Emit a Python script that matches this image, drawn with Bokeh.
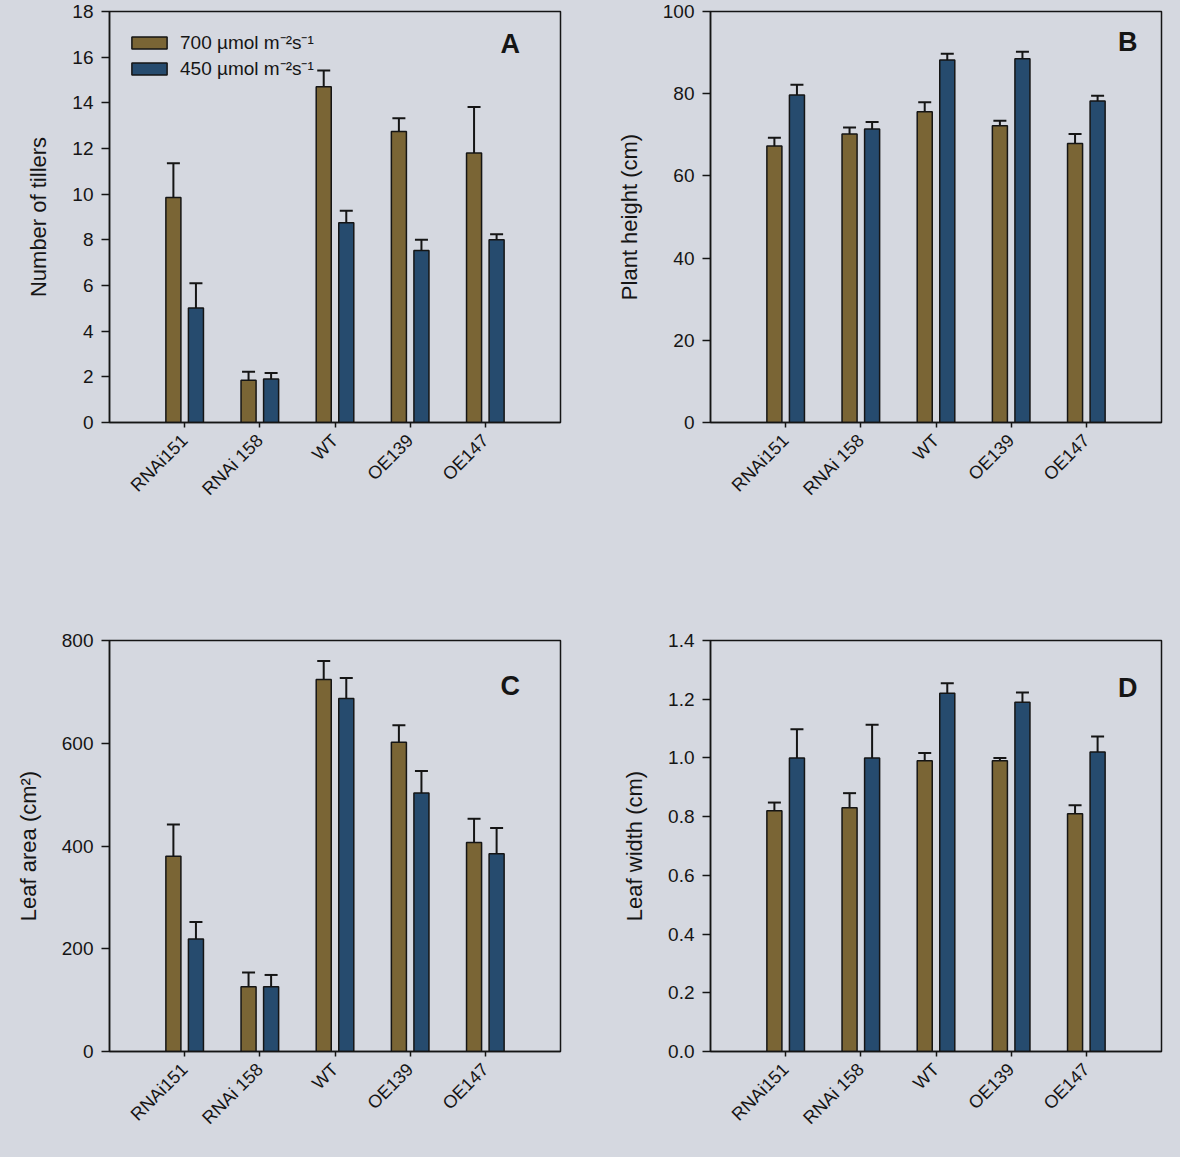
from bokeh.plotting import figure
from bokeh.models import (ColumnDataSource, FactorRange, Range1d, FixedTicker, Whisker,
                          TeeHead, Label, Legend, LegendItem, PrintfTickFormatter)
from bokeh.transform import dodge
from bokeh.layouts import column, row
from bokeh.embed import file_html
from bokeh.resources import INLINE
import math

# ---------------- data ----------------
lines = ["RNAi151", "RNAi 158", "WT", "OE139", "OE147"]
series_labels = ["700 \u00b5mol m\u207b\u00b2s\u207b\u00b9", "450 \u00b5mol m\u207b\u00b2s\u207b\u00b9"]

tillers_700 = [9.85, 1.85, 14.7, 12.75, 11.8]
tillers_700_err = [11.35, 2.22, 15.42, 13.32, 13.82]
tillers_450 = [5.02, 1.9, 8.75, 7.53, 8.0]
tillers_450_err = [6.1, 2.17, 9.27, 8.0, 8.24]

height_700 = [67.3, 70.2, 75.6, 72.2, 67.9]
height_700_err = [69.3, 71.8, 77.9, 73.4, 70.2]
height_450 = [79.7, 71.4, 88.2, 88.5, 78.2]
height_450_err = [82.2, 73.1, 89.7, 90.2, 79.5]

area_700 = [380, 126, 724, 602, 407]
area_700_err = [442, 154, 760, 635, 453]
area_450 = [219, 126, 687, 503, 385]
area_450_err = [252, 149, 727, 546, 435]

width_700 = [0.82, 0.83, 0.99, 0.99, 0.81]
width_700_err = [0.848, 0.88, 1.017, 1.0, 0.839]
width_450 = [1.0, 1.0, 1.22, 1.19, 1.02]
width_450_err = [1.098, 1.113, 1.254, 1.223, 1.073]

panels = [
    dict(letter="A", ylabel="Number of tillers", ymax=18, ticks=[0, 2, 4, 6, 8, 10, 12, 14, 16, 18],
         fmt="%d", a=tillers_700, ae=tillers_700_err, b=tillers_450, be=tillers_450_err),
    dict(letter="B", ylabel="Plant height (cm)", ymax=100, ticks=[0, 20, 40, 60, 80, 100],
         fmt="%d", a=height_700, ae=height_700_err, b=height_450, be=height_450_err),
    dict(letter="C", ylabel="Leaf area (cm\u00b2)", ymax=800, ticks=[0, 200, 400, 600, 800],
         fmt="%d", a=area_700, ae=area_700_err, b=area_450, be=area_450_err),
    dict(letter="D", ylabel="Leaf width (cm)", ymax=1.4, ticks=[0, 0.2, 0.4, 0.6, 0.8, 1.0, 1.2, 1.4],
         fmt="%.1f", a=width_700, ae=width_700_err, b=width_450, be=width_450_err),
]

# ---------------- style ----------------
BG = "#d5d8e0"
BROWN = "#7a6535"
BLUE = "#264b6e"
FONT = "Liberation Sans"
INK = "#151515"

geom = {
    "A": dict(w=582, h=629, l=109, r=22, t=11, b=207),
    "B": dict(w=582, h=629, l=128, r=3, t=11, b=207),
    "C": dict(w=582, h=512, l=109, r=22, t=11, b=90),
    "D": dict(w=582, h=512, l=128, r=3, t=11, b=90),
}
letter_pos = {"A": (4.83, 0.92), "B": (5.05, 0.925), "C": (4.83, 0.89), "D": (5.05, 0.884)}


def make_panel(pd):
    g = geom[pd["letter"]]
    p = figure(width=g["w"], height=g["h"], x_range=FactorRange(*lines, range_padding=0.2),
               y_range=Range1d(0, pd["ymax"]), output_backend="svg", toolbar_location=None,
               min_border_left=g["l"], min_border_right=g["r"], min_border_top=g["t"],
               min_border_bottom=g["b"])
    p.background_fill_color = BG
    p.border_fill_color = BG
    p.outline_line_color = INK
    p.outline_line_width = 1.5
    p.grid.visible = False

    src = ColumnDataSource(dict(cat=lines, a=pd["a"], ae=pd["ae"], b=pd["b"], be=pd["be"]))
    ra = p.vbar(x=dodge("cat", -0.15, range=p.x_range), top="a", width=0.2, source=src,
                fill_color=BROWN, line_color=INK, line_width=1.5)
    rb = p.vbar(x=dodge("cat", 0.15, range=p.x_range), top="b", width=0.2, source=src,
                fill_color=BLUE, line_color=INK, line_width=1.5)
    for key, off in (("a", -0.15), ("b", 0.15)):
        w = Whisker(source=src, base=dodge("cat", off, range=p.x_range), lower=key, upper=key + "e",
                    dimension="height", line_color=INK, line_width=2,
                    upper_head=TeeHead(size=13, line_color=INK, line_width=2), lower_head=None)
        p.add_layout(w)

    # axes
    p.yaxis.ticker = FixedTicker(ticks=pd["ticks"])
    p.yaxis.formatter = PrintfTickFormatter(format=pd["fmt"])
    p.yaxis.minor_tick_line_color = None
    p.yaxis.major_tick_in = 0
    p.yaxis.major_tick_out = 8
    p.yaxis.major_label_standoff = 8
    p.yaxis.axis_label = pd["ylabel"]
    p.yaxis.axis_label_standoff = 18
    p.yaxis.major_label_text_font_size = "19px"
    p.xaxis.major_label_orientation = math.pi / 4
    p.xaxis.major_tick_in = 0
    p.xaxis.major_tick_out = 5
    p.xaxis.major_label_standoff = 10
    p.xaxis.major_label_text_font_size = "18px"
    for ax in (p.xaxis[0], p.yaxis[0]):
        ax.axis_line_color = INK
        ax.axis_line_width = 1.5
        ax.major_tick_line_color = INK
        ax.major_tick_line_width = 1.5
        ax.major_label_text_font = FONT
        ax.major_label_text_color = INK
        ax.axis_label_text_font = FONT
        ax.axis_label_text_font_size = "22px"
        ax.axis_label_text_font_style = "normal"
        ax.axis_label_text_color = INK

    lx, ly = letter_pos[pd["letter"]]
    p.add_layout(Label(x=lx, y=ly * pd["ymax"], text=pd["letter"], text_font=FONT,
                       text_font_style="bold", text_font_size="27px", text_color=INK,
                       text_align="center", text_baseline="middle"))
    return p, ra, rb


figs = []
for i, pd in enumerate(panels):
    p, ra, rb = make_panel(pd)
    if i == 0:
        leg = Legend(items=[LegendItem(label=series_labels[0], renderers=[ra]),
                            LegendItem(label=series_labels[1], renderers=[rb])],
                     location="top_left", margin=18, padding=0, spacing=0,
                     glyph_width=44, glyph_height=15, label_standoff=9, label_height=20,
                     label_text_font=FONT, label_text_font_size="19px", label_text_color=INK,
                     background_fill_alpha=0, border_line_alpha=0)
        p.add_layout(leg)
    figs.append(p)

layout = column(row(figs[0], figs[1]), row(figs[2], figs[3]))
html = file_html(layout, INLINE)
html = html.replace("<head>", "<head><style>body{background:%s;}</style>" % BG, 1)
open("out.html", "w").write(html)
